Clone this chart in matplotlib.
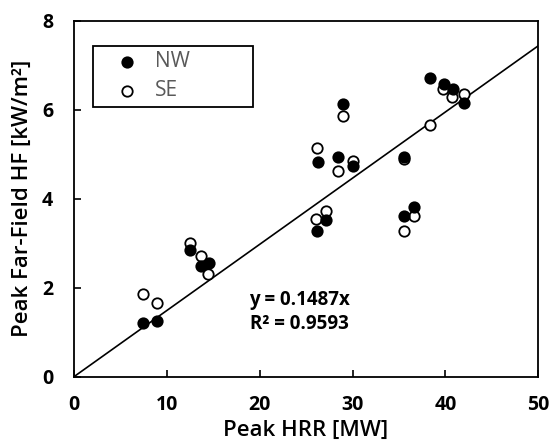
import matplotlib
matplotlib.use("Agg")
import matplotlib.pyplot as plt
from matplotlib.patches import Rectangle

plt.rcParams['font.family'] = ['Open Sans', 'DejaVu Sans']

nw_x = [7.44, 8.94, 12.5, 13.69, 14.55, 26.2, 26.3, 27.1, 28.4, 29.0, 30.06, 35.56, 35.56, 36.6, 38.4, 39.87, 40.84, 42.03]
nw_y = [1.20, 1.26, 2.85, 2.49, 2.55, 3.27, 4.82, 3.52, 4.93, 6.13, 4.73, 4.94, 3.62, 3.82, 6.72, 6.58, 6.47, 6.14]
se_x = [7.44, 8.94, 12.5, 13.69, 14.48, 26.2, 26.1, 27.1, 28.4, 29.0, 30.06, 35.56, 35.56, 36.6, 38.4, 39.8, 40.7, 42.0]
se_y = [1.85, 1.66, 3.00, 2.71, 2.30, 5.13, 3.54, 3.72, 4.63, 5.86, 4.84, 4.89, 3.27, 3.62, 5.65, 6.47, 6.29, 6.35]
slope = 0.1487
r2 = 0.9593
fit_x = [0, 50]
x_ticks = [0, 10, 20, 30, 40, 50]
y_ticks = [0, 2, 4, 6, 8]
series_names = ['NW', 'SE']

fig = plt.figure(figsize=(5.52, 4.45), dpi=100)
ax = fig.add_axes([0.134, 0.1535, 0.841, 0.8])

ax.plot(fit_x, [slope * v for v in fit_x], color='black', lw=1.2, zorder=1)
ax.plot(nw_x, nw_y, 'o', ms=7.5, mfc='black', mec='black', mew=1.3, zorder=3)
ax.plot(se_x, se_y, 'o', ms=7.5, mfc='white', mec='black', mew=1.3, zorder=2)

ax.set_xlim(0, 50)
ax.set_ylim(0, 8)
ax.set_xticks(x_ticks)
ax.set_yticks(y_ticks)
ax.tick_params(direction='in', length=5, width=1.2, labelsize=14)
ax.tick_params(axis='y', pad=15)
ax.tick_params(axis='x', pad=13)
for lbl in ax.get_xticklabels() + ax.get_yticklabels():
    lbl.set_fontweight('bold')
for s in ax.spines.values():
    s.set_linewidth(1.3)

ax.set_xlabel('Peak HRR [MW]', fontsize=16, fontweight='semibold')
ax.set_ylabel('Peak Far-Field HF [kW/m²]', fontsize=16, fontweight='semibold')
ax.xaxis.set_label_coords(0.5, -0.122)
ax.yaxis.set_label_coords(-0.088, 0.5)

ax.text(24.3, 1.45, f'y = {slope}x\nR² = {r2}', ha='center', va='center',
        fontsize=13.5, fontweight='bold', linespacing=1.25)

# legend drawn as a framed box (axes coordinates)
ax.add_patch(Rectangle((0.041, 0.758), 0.345, 0.171, transform=ax.transAxes,
                       fill=True, facecolor='white', edgecolor='black', lw=1.3, zorder=4))
leg_y = [0.885, 0.803]
styles = [dict(mfc='black'), dict(mfc='white')]
for name, yy, st in zip(series_names, leg_y, styles):
    ax.plot([0.1136], [yy], 'o', ms=7.5, mec='black', mew=1.3, transform=ax.transAxes,
            zorder=5, clip_on=False, **st)
    ax.text(0.1746, yy, name, transform=ax.transAxes, va='center', ha='left',
            fontsize=15, color='#595959', zorder=5)

fig.savefig('out.png', dpi=100)
